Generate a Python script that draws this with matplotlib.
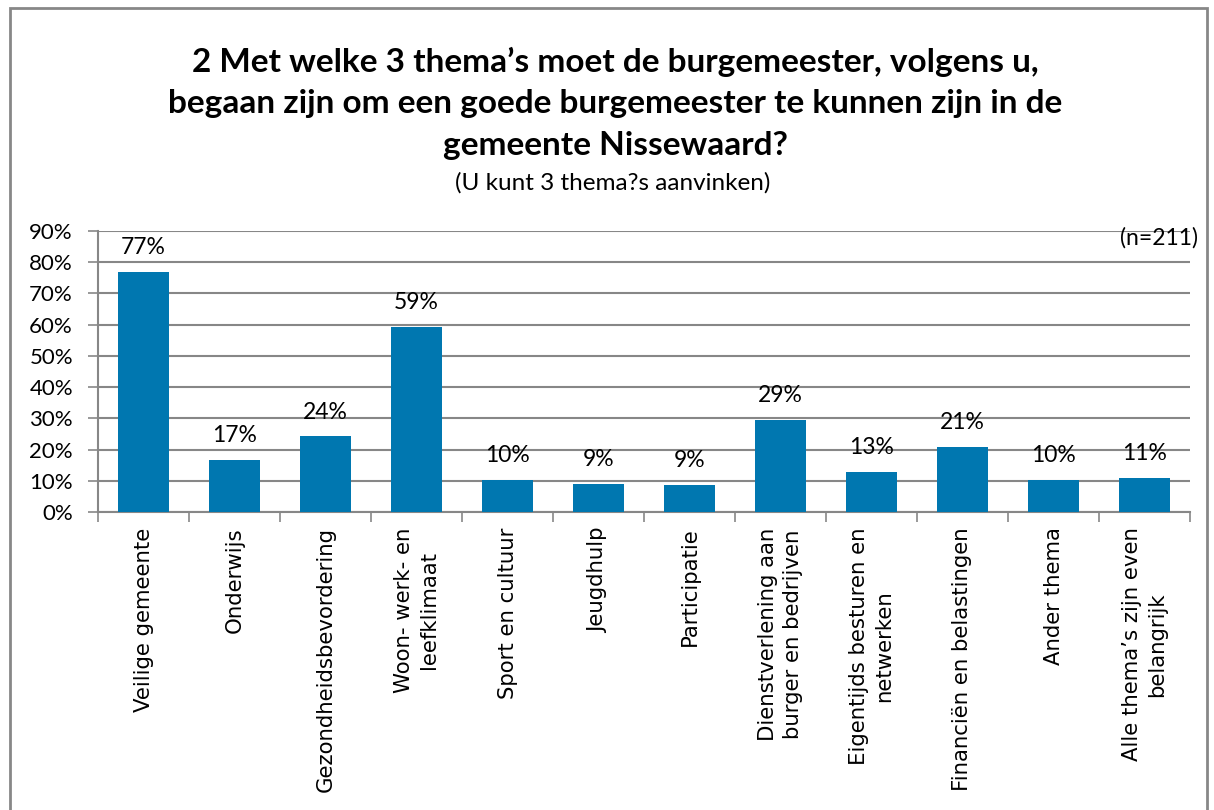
import matplotlib.pyplot as plt
from matplotlib.patches import Rectangle

# gegevens
themas = ["Veilige gemeente", "Onderwijs", "Gezondheidsbevordering",
          "Woon- werk- en\nleefklimaat", "Sport en cultuur", "Jeugdhulp",
          "Participatie", "Dienstverlening aan\nburger en bedrijven",
          "Eigentijds besturen en\nnetwerken", "Financiën en belastingen",
          "Ander thema", "Alle thema’s zijn even\nbelangrijk"]
percentages = [76.8, 16.6, 24.2, 59.2, 10.4, 9.0, 8.6, 29.4, 12.8, 20.9, 10.4, 10.9]
yticks = [0, 10, 20, 30, 40, 50, 60, 70, 80, 90]

blauw = '#0077B0'
grijs = '#878787'

fig = plt.figure(figsize=(12.14, 8.10), dpi=100)
ax = fig.add_axes([98/1214, 298/810, (1190-98)/1214, (512-231)/810])

x = range(len(themas))
ax.bar(x, percentages, width=0.57, color=blauw, zorder=3)

for i, v in enumerate(percentages):
    ax.annotate(f"{v:.0f}%", (i, v), xytext=(0, 10), textcoords='offset points',
                ha='center', va='bottom', fontsize=16.5, family='Lato')

ax.set_xlim(-0.5, len(themas) - 0.5)
ax.set_ylim(0, 90)
ax.set_yticks(yticks)
ax.set_yticklabels([f"{t}%" for t in yticks], fontsize=16, family='Lato')
ax.yaxis.grid(True, color=grijs, linewidth=1.5, zorder=0)
ax.tick_params(axis='y', length=7, width=1.2, color=grijs, pad=11)

# tickmarks tussen de categorieën, labels in het midden
ax.set_xticks([i - 0.5 for i in range(len(themas) + 1)])
ax.set_xticklabels([])
ax.set_xticks(list(x), minor=True)
ax.set_xticklabels(themas, minor=True, rotation=90, fontsize=15.3,
                   family='DejaVu Sans', va='top', ha='center', linespacing=1.35)
ax.tick_params(axis='x', which='major', length=7, width=1.2, color=grijs)
ax.tick_params(axis='x', which='minor', length=0, pad=11)

for kant in ['top', 'right']:
    ax.spines[kant].set_visible(False)
for kant in ['left', 'bottom']:
    ax.spines[kant].set_color(grijs)
    ax.spines[kant].set_linewidth(1.5)

titel = ["2 Met welke 3 thema’s moet de burgemeester, volgens u,",
         "begaan zijn om een goede burgemeester te kunnen zijn in de",
         "gemeente Nissewaard?"]
for regel, y in zip(titel, [62, 104, 146]):
    fig.text(0.507, 1 - y/810, regel, ha='center', va='center',
             fontsize=24, fontweight='bold', family='Lato')
fig.text(0.505, 1 - 183/810, "(U kunt 3 thema?s aanvinken)",
         ha='center', va='center', fontsize=17.5, family='Lato')
fig.text(1198/1214, 1 - 238/810, "(n=211)", ha='right', va='center',
         fontsize=16.5, family='Lato')

rand = Rectangle((10/1214, -0.05), (1207-10)/1214, (810-8)/810 + 0.05,
                 transform=fig.transFigure, fill=False, edgecolor=grijs, linewidth=2)
fig.patches.append(rand)

fig.savefig('out.png', dpi=100)
